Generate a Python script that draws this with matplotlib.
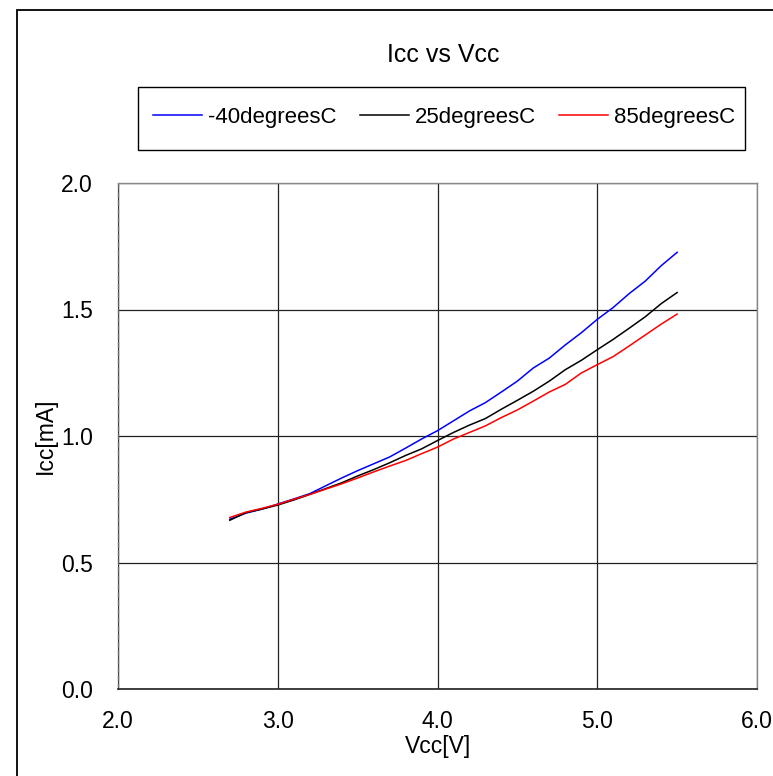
import matplotlib
matplotlib.use("Agg")
import matplotlib.pyplot as plt
from matplotlib.patches import Rectangle

plt.rcParams['font.family'] = ['Liberation Sans', 'DejaVu Sans']

vcc = [2.7, 2.8, 2.9, 3.0, 3.1, 3.2, 3.3, 3.4, 3.5, 3.6, 3.7, 3.8, 3.9, 4.0,
       4.1, 4.2, 4.3, 4.4, 4.5, 4.6, 4.7, 4.8, 4.9, 5.0, 5.1, 5.2, 5.3, 5.4, 5.5]

icc_m40 = [0.671, 0.695, 0.711, 0.731, 0.751, 0.772, 0.803, 0.834, 0.863, 0.890,
           0.917, 0.952, 0.988, 1.021, 1.060, 1.099, 1.132, 1.174, 1.217, 1.269,
           1.308, 1.360, 1.408, 1.461, 1.508, 1.563, 1.612, 1.673, 1.726]
icc_25 = [0.667, 0.697, 0.711, 0.727, 0.747, 0.769, 0.792, 0.815, 0.842, 0.867,
          0.894, 0.923, 0.949, 0.982, 1.014, 1.043, 1.069, 1.106, 1.141, 1.177,
          1.217, 1.262, 1.299, 1.341, 1.382, 1.426, 1.471, 1.523, 1.567]
icc_85 = [0.678, 0.699, 0.714, 0.730, 0.750, 0.769, 0.790, 0.811, 0.834, 0.858,
          0.881, 0.903, 0.930, 0.956, 0.988, 1.014, 1.040, 1.073, 1.103, 1.138,
          1.174, 1.204, 1.249, 1.282, 1.314, 1.356, 1.399, 1.442, 1.482]

labels = ['-40degreesC', '25degreesC', '85degreesC']
colors = ['#0000ff', '#000000', '#ff0000']
xticks = [2.0, 3.0, 4.0, 5.0, 6.0]
yticks = [0.0, 0.5, 1.0, 1.5, 2.0]

W, H = 773, 776
fig = plt.figure(figsize=(W / 100, H / 100), dpi=100)
ax = fig.add_axes([118 / W, 1 - 689 / H, (757 - 118) / W, (689 - 183) / H])

for y, lab, c in zip([icc_m40, icc_25, icc_85], labels, colors):
    ax.plot(vcc, y, color=c, lw=1.1, label=lab)

ax.set_xlim(2.0, 6.0)
ax.set_ylim(0.0, 2.0)
ax.set_xticks(xticks)
ax.set_yticks(yticks)
ax.set_xticklabels([f"{t:.1f}" for t in xticks])
ax.set_yticklabels([f"{t:.1f}" for t in yticks])
ax.tick_params(length=0, labelsize=16.5, colors='black')
ax.tick_params(axis='x', pad=15)
ax.tick_params(axis='y', pad=18)
ax.grid(True, color='#222222', lw=0.9)
ax.set_axisbelow(True)
for s in ['top', 'right']:
    ax.spines[s].set_color('#888888')
    ax.spines[s].set_linewidth(1.0)
ax.spines['bottom'].set_color('#222222')
ax.spines['bottom'].set_linewidth(1.2)
ax.spines['left'].set_color('#666666')
ax.spines['left'].set_linestyle((0, (4, 2)))
ax.spines['left'].set_linewidth(1.0)

fig.text(45 / W, 1 - 436 / H, 'Icc[mA]', rotation=90, ha='center', va='center', fontsize=16.5)
fig.text(438 / W, 1 - 746 / H, 'Vcc[V]', ha='center', va='center', fontsize=16.5)
fig.text(443 / W, 1 - 62 / H, 'Icc vs Vcc', ha='center', va='baseline', fontsize=18)

leg = fig.legend(loc='center', ncol=3,
                 bbox_to_anchor=(444 / W, 1 - 117 / H),
                 bbox_transform=fig.transFigure, borderaxespad=0,
                 fontsize=16, handlelength=2.2, handletextpad=0.27,
                 columnspacing=1.05, borderpad=0.0, frameon=False)

box = Rectangle((138 / W, 1 - 150 / H), 607 / W, 63 / H, transform=fig.transFigure,
                fill=False, edgecolor='black', lw=1.0)
fig.add_artist(box)

frame = Rectangle((17 / W, -0.1), 1.2, 1 - 10 / H + 0.1, transform=fig.transFigure,
                  fill=False, edgecolor='black', lw=1.3, clip_on=False)
fig.add_artist(frame)

fig.savefig('out.png', dpi=100)
